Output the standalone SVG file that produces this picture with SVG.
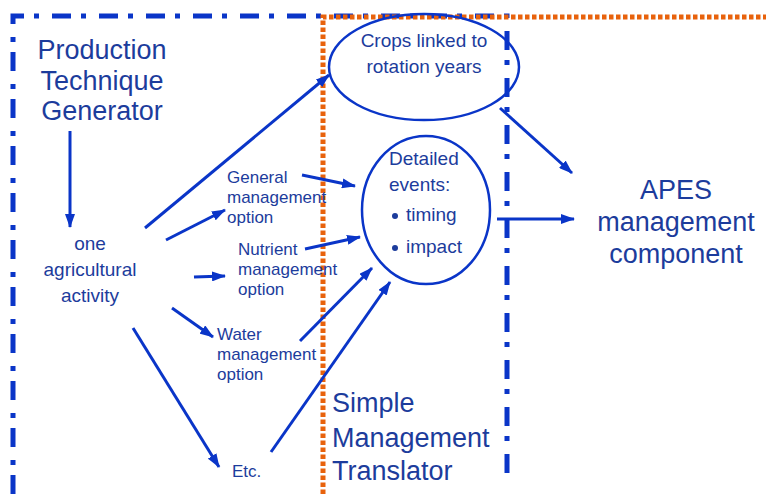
<svg xmlns="http://www.w3.org/2000/svg" width="766" height="494" viewBox="0 0 766 494">
<style>
.t{font-family:"Liberation Sans",Arial,sans-serif;fill:#1c3c9c}
.big{font-size:27px}
.mid{font-size:19px}
.sm{font-size:17px}
.ln{stroke:#0a35c8;stroke-width:3;fill:none}
.el{stroke:#0a35c8;stroke-width:2.5;fill:none}
</style>
<defs>
<marker id="ah" markerUnits="userSpaceOnUse" markerWidth="14" markerHeight="10" refX="13" refY="5" orient="auto">
<path d="M0,0 L14,5 L0,10 z" fill="#0a35c8"/>
</marker>
</defs>
<g id="boundaries">
<path d="M13,494 V16 H507 V483" fill="none" stroke="#0a35c8" stroke-width="5" stroke-dasharray="19 10 5 13"/>
<path d="M323,494 V17 H766" fill="none" stroke="#e8620c" stroke-width="5" stroke-dasharray="4.5 2.5"/>
</g>
<g id="ptg">
<text class="t big" text-anchor="middle" x="102" y="59">Production</text>
<text class="t big" text-anchor="middle" x="102" y="90">Technique</text>
<text class="t big" text-anchor="middle" x="102" y="120">Generator</text>
</g>
<g id="activity">
<text class="t mid" text-anchor="middle" x="90" y="250">one</text>
<text class="t mid" text-anchor="middle" x="90" y="276">agricultural</text>
<text class="t mid" text-anchor="middle" x="90" y="302">activity</text>
</g>
<g id="general">
<text class="t sm" x="227" y="183">General</text>
<text class="t sm" x="227" y="203">management</text>
<text class="t sm" x="227" y="223">option</text>
</g>
<g id="nutrient">
<text class="t sm" x="238" y="255">Nutrient</text>
<text class="t sm" x="238" y="275">management</text>
<text class="t sm" x="238" y="295">option</text>
</g>
<g id="water">
<text class="t sm" x="217" y="340">Water</text>
<text class="t sm" x="217" y="360">management</text>
<text class="t sm" x="217" y="380">option</text>
</g>
<g id="etc">
<text class="t sm" x="232" y="477">Etc.</text>
</g>
<g id="crops">
<ellipse class="el" cx="424" cy="67" rx="95" ry="53"/>
<text class="t mid" text-anchor="middle" x="424" y="47">Crops linked to</text>
<text class="t mid" text-anchor="middle" x="424" y="73">rotation years</text>
</g>
<g id="events">
<ellipse class="el" cx="426" cy="210" rx="64" ry="74"/>
<text class="t mid" x="389" y="165">Detailed</text>
<text class="t mid" x="389" y="191">events:</text>
<circle cx="395" cy="216" r="3" fill="#1c3c9c"/>
<text class="t mid" x="406" y="221">timing</text>
<circle cx="395" cy="248" r="3" fill="#1c3c9c"/>
<text class="t mid" x="406" y="253">impact</text>
</g>
<g id="smt">
<text class="t big" x="332" y="412">Simple</text>
<text class="t big" x="332" y="447">Management</text>
<text class="t big" x="332" y="480">Translator</text>
</g>
<g id="apes">
<text class="t big" text-anchor="middle" x="676" y="199">APES</text>
<text class="t big" text-anchor="middle" x="676" y="231">management</text>
<text class="t big" text-anchor="middle" x="676" y="263">component</text>
</g>
<g id="connectors">
<line class="ln" x1="70" y1="131" x2="70" y2="227" marker-end="url(#ah)"/>
<line class="ln" x1="145" y1="228" x2="329" y2="75" marker-end="url(#ah)"/>
<line class="ln" x1="166" y1="240" x2="225" y2="210" marker-end="url(#ah)"/>
<line class="ln" x1="194" y1="277" x2="225" y2="276" marker-end="url(#ah)"/>
<line class="ln" x1="172" y1="308" x2="213" y2="337" marker-end="url(#ah)"/>
<line class="ln" x1="133" y1="328" x2="219" y2="467" marker-end="url(#ah)"/>
<line class="ln" x1="302" y1="175" x2="355" y2="186" marker-end="url(#ah)"/>
<line class="ln" x1="305" y1="249" x2="360" y2="237" marker-end="url(#ah)"/>
<line class="ln" x1="300" y1="341" x2="372" y2="268" marker-end="url(#ah)"/>
<line class="ln" x1="271" y1="452" x2="390" y2="282" marker-end="url(#ah)"/>
<line class="ln" x1="500" y1="108" x2="572" y2="173" marker-end="url(#ah)"/>
<line class="ln" x1="497" y1="219" x2="574" y2="219" marker-end="url(#ah)"/>
</g>
</svg>
